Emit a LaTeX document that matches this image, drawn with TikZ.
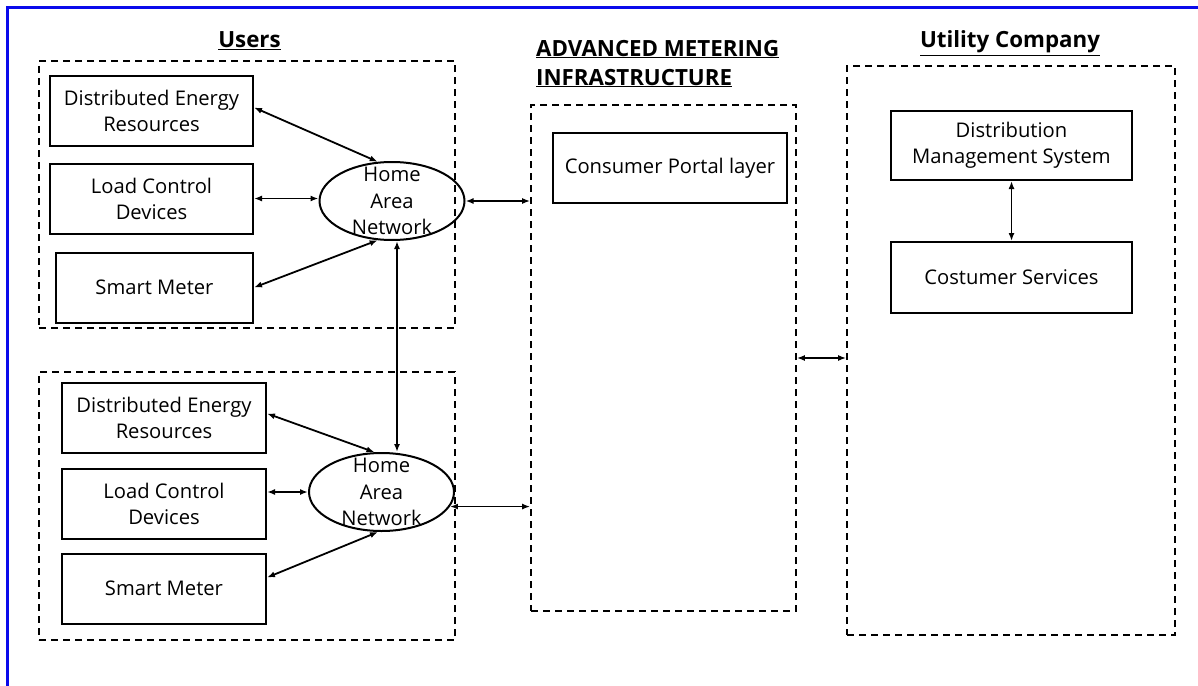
\documentclass[tikz,border=0pt]{standalone}
\usepackage{fontspec}
\setmainfont{Open Sans}
\usetikzlibrary{positioning,shapes,arrows.meta}
\definecolor{frameblue}{RGB}{10,10,235}

\begin{document}
\begin{tikzpicture}[
  x=1pt, y=-1pt,
  box/.style = {
    draw,
    line width=2pt,
    align=center,
    inner sep=0pt,
    minimum width=203pt,
    minimum height=70pt,
    font=\fontsize{20.2pt}{26pt}\selectfont,
  },
  zone/.style = {
    draw,
    dash pattern=on 7pt off 5pt,
    line width=1.7pt,
  },
  han/.style = {
    draw,
    ellipse,
    line width=2pt,
    minimum width=145pt,
    minimum height=78pt,
  },
  hantext/.style = {
    align=center,
    inner sep=0pt,
    font=\fontsize{20.2pt}{26.5pt}\selectfont,
  },
  title/.style = {
    inner sep=0pt,
    font=\bfseries\fontsize{22.3pt}{29pt}\selectfont,
  },
  conn/.style = {<->, line width=1.8pt},
  >={Latex[length=8pt,width=6pt]},
]

  \useasboundingbox (0,0) rectangle (1198,685);
  \draw[frameblue, line width=2.2pt] (7.5,690) -- (7.5,7.5) -- (1205,7.5);

  % the three zones
  \node[zone, minimum width=416pt, minimum height=267pt] (users1) at (247,194.5) {};
  \node[zone, minimum width=416pt, minimum height=268pt] (users2) at (247,506) {};
  \node[zone, minimum width=265pt, minimum height=506pt] (ami) at (663.5,358) {};
  \node[zone, minimum width=328pt, minimum height=569pt] (uc) at (1011,350.5) {};

  \node[title, anchor=base] (userstitle) at (249.5,48) {\underline{Users}};
  \node[title, anchor=base west, align=left] (amititle) at (536,85)
    {\underline{ADVANCED METERING}\\\underline{INFRASTRUCTURE}};
  \node[title, anchor=base] (uctitle) at (1010,48) {\underline{Utility Company}};

  % first user
  \node[box] (der1) at (151.5,110.5) {Distributed Energy\\Resources};
  \node[box] (lcd1) [below=16pt of der1] {Load Control\\Devices};
  \node[box, minimum width=197pt] (sm1) [below left=17pt and 0pt of lcd1.south east] {Smart Meter};
  \node[han] (han1) at (392,201) {};
  \node[hantext] (han1txt) at (han1.center) {Home\\Area\\Network};

  \draw[conn] ([yshift=3pt]der1.east) -- (han1.110);
  \draw[conn] (lcd1.east) -- (lcd1.east -| han1.west);
  \draw[conn] (sm1.east) -- (han1.250);
  \draw[conn] (han1.east) -- (han1.east -| ami.west);

  % second user
  \node[box, minimum width=204pt] (der2) at (164,417.5) {Distributed Energy\\Resources};
  \node[box, minimum width=204pt] (lcd2) [below=14pt of der2] {Load Control\\Devices};
  \node[box, minimum width=204pt] (sm2) [below=13pt of lcd2] {Smart Meter};
  \node[han] (han2) at (381.5,492) {};
  \node[hantext] (han2txt) at (han2.center) {Home\\Area\\Network};

  \draw[conn] ([yshift=4pt]der2.east) -- (han2.100);
  \draw[conn] (han2.west -| lcd2.east) -- (han2.west);
  \draw[conn] ([yshift=11pt]sm2.east) -- (han2.265);
  \draw[conn] (han2.348) -- (han2.348 -| ami.west);

  \draw[conn] ([xshift=5pt]han1.south) -- ([xshift=5pt]han1.south |- han2.north);

  % metering infrastructure
  \node[box, minimum width=234pt] (cpl) at (670,168) {Consumer Portal layer};
  \draw[conn] (ami.east) -- (ami.east -| uc.west);

  % utility company
  \node[box, minimum width=241pt, minimum height=69pt] (dms) at (1011.5,145.5) {Distribution\\Management System};
  \node[box, minimum width=241pt, minimum height=71pt] (cs) [below=60pt of dms] {Costumer Services};
  \draw[conn] (dms) -- (cs);
\end{tikzpicture}
\end{document}
